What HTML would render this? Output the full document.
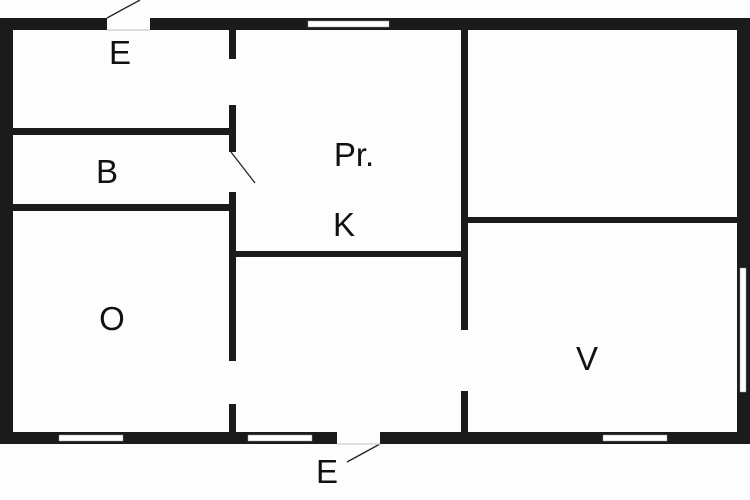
<!DOCTYPE html>
<html><head><style>html,body{margin:0;padding:0;background:#fff}svg{display:block}</style></head>
<body>
<svg width="750" height="500" viewBox="0 0 750 500" xmlns="http://www.w3.org/2000/svg">
<rect width="750" height="500" fill="#fefdfe"/>
<g fill="#1b1b1b">
<!-- outer walls -->
<rect x="0" y="18" width="107" height="12"/>
<rect x="150" y="18" width="600" height="12"/>
<rect x="0" y="18" width="13" height="426"/>
<rect x="737" y="18" width="13" height="426"/>
<rect x="0" y="432" width="337" height="12"/>
<rect x="380" y="432" width="370" height="12"/>
<!-- interior vertical left -->
<rect x="229" y="30" width="7" height="29"/>
<rect x="229" y="105" width="7" height="47"/>
<rect x="229" y="192" width="7" height="169"/>
<rect x="229" y="404" width="7" height="28"/>
<!-- B walls -->
<rect x="13" y="128" width="216" height="7"/>
<rect x="13" y="204" width="216" height="7"/>
<!-- K wall -->
<rect x="236" y="251" width="225" height="6"/>
<!-- interior vertical right -->
<rect x="461" y="30" width="7" height="300"/>
<rect x="461" y="391" width="7" height="41"/>
<!-- right horizontal -->
<rect x="468" y="217" width="269" height="6"/>
</g>
<g fill="#fff" stroke="#999" stroke-width="0.5">
<rect x="308" y="21" width="81" height="6"/>
<rect x="59" y="435" width="64" height="6"/>
<rect x="248" y="435" width="64" height="6"/>
<rect x="603" y="435" width="64" height="6"/>
<rect x="740" y="268" width="6" height="124"/>
</g>
<g stroke="#222" stroke-width="1.3" fill="none">
<line x1="107" y1="18" x2="140" y2="0"/>
<line x1="231" y1="152" x2="255" y2="183"/>
<line x1="380" y1="444" x2="347" y2="462"/>
<line x1="107" y1="30" x2="150" y2="30" stroke="#ccc"/>
<line x1="337" y1="444" x2="380" y2="444" stroke="#ccc"/>
</g>
<g font-family="Liberation Sans, sans-serif" font-size="33" fill="#111" text-anchor="middle">
<text x="120" y="64">E</text>
<text x="107" y="183">B</text>
<text x="354" y="166">Pr.</text>
<text x="344" y="236">K</text>
<text x="112" y="330">O</text>
<text x="587" y="370">V</text>
<text x="327" y="483">E</text>
</g>
</svg>
</body></html>
